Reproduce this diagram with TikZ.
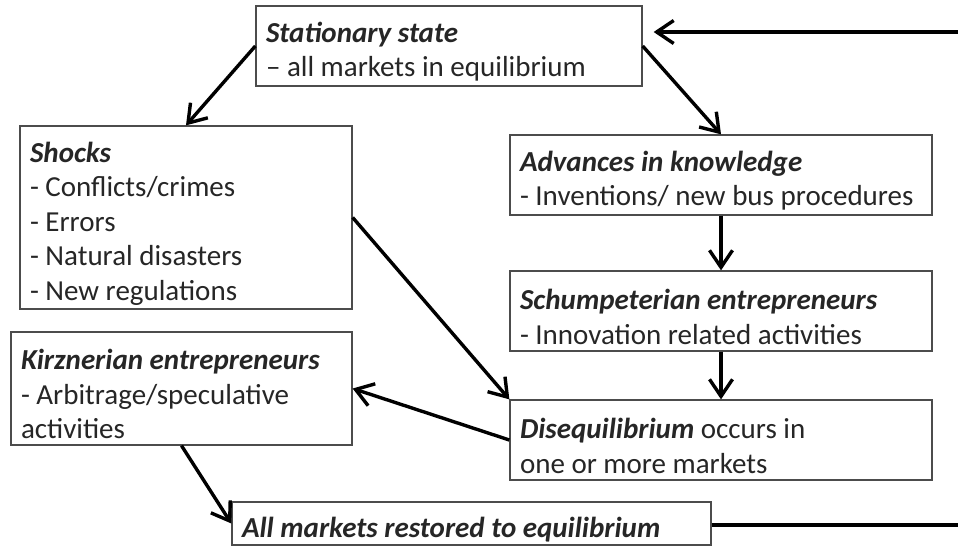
\documentclass[tikz,border=0pt]{standalone}
\usepackage{fontspec}
\setmainfont{Carlito}
\usetikzlibrary{arrows.meta}
\newcommand{\natsp}{\spaceskip=0pt\xspaceskip=0pt\relax\rule{0pt}{32pt}}
\begin{document}
\begin{tikzpicture}[x=1pt,y=-1pt,
  box/.style={draw=black!70,line width=1.3pt,fill=white,inner xsep=10pt,inner ysep=0pt,align=left,
    text=black!85,font=\fontsize{29}{34.5}\selectfont},
  conn/.style={line width=3.4pt,draw=black},
  arr/.style={conn,-{Straight Barb[length=17pt,width=23pt,line width=3.4pt]}}]
\useasboundingbox (0,0) rectangle (958,548);
\node[box,minimum width=386pt,minimum height=80pt,text width=366pt] (st) at (449,46)
  {\natsp\textbf{\textit{Stationary state}}\\– all markets in equilibrium};
\node[box,minimum width=332pt,minimum height=183pt,text width=312pt] (sh) at (186,217.5)
  {\natsp\textbf{\textit{Shocks}}\\- Conflicts/crimes\\- Errors\\- Natural disasters\\- New regulations};
\node[box,minimum width=422pt,minimum height=80pt,text width=402pt] (adv) at (721,175)
  {\natsp\textbf{\textit{Advances in knowledge}}\\- Inventions/ new bus procedures};
\node[box,minimum width=422pt,minimum height=80pt,text width=402pt] (sch) at (721,311)
  {\natsp\textbf{\textit{Schumpeterian entrepreneurs}}\\- Innovation related activities};
\node[box,minimum width=422pt,minimum height=80pt,text width=402pt] (dis) at (721,440)
  {\natsp\textbf{\textit{Disequilibrium}} occurs in\\one or more markets};
\node[box,minimum width=341pt,minimum height=113pt,text width=321pt] (kz) at (181.5,388.5)
  {\natsp\textbf{\textit{Kirznerian entrepreneurs}}\\- Arbitrage/speculative\\activities};
\node[box,minimum width=479pt,minimum height=43pt,text width=459pt] (all) at (471.5,523.5)
  {\natsp\textbf{\textit{All markets restored to equilibrium}}};
\coordinate (fbtop) at (958,32);
\coordinate (fbbot) at (958,525);
\draw[arr] (st.west) -- (sh.north);
\draw[arr] (st.east) -- (adv.north);
\draw[arr,shorten >=11pt] (fbtop) -- (st.east |- fbtop);
\draw[arr] (adv.south) -- (sch.north);
\draw[arr] (sch.south) -- (dis.north);
\draw[arr] (sh.east) -- (dis.north west);
\draw[arr] (dis.west) -- (kz.east);
\draw[arr] (kz.south) -- (all.west);
\draw[conn] (all.east |- fbbot) -- (fbbot);
\end{tikzpicture}
\end{document}
